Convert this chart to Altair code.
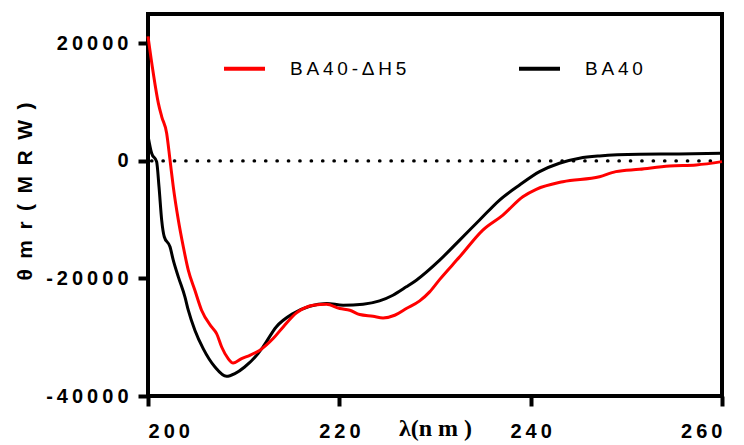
import altair as alt
import pandas as pd

# ---- data ----
red_nm = [200.0, 200.55, 201.08, 201.43, 201.95, 202.3, 202.64, 203.17, 203.69, 204.21,
          204.9, 205.6, 206.65, 207.17, 207.7, 208.38, 208.9, 209.78, 210.65, 211.7,
          213.08, 214.13, 215.52, 217.26, 218.66, 220.05, 221.1, 222.13, 223.52, 224.57,
          225.79, 227.0, 228.4, 229.44, 230.5, 232.58, 235.0, 237.1, 239.18, 240.58,
          243.36, 247.2, 248.9, 251.37, 254.5, 257.3, 260.0]
red_mrw = [21200, 14950, 9840, 7550, 4720, 170, -4380, -10060, -14610, -18580,
           -22000, -25400, -28250, -29380, -31660, -33640, -34390, -33640, -33080, -32200,
           -30230, -28250, -25860, -24550, -24380, -25120, -25400, -26140, -26430, -26710,
           -26260, -25120, -23820, -22280, -20150, -16320, -11760, -9210, -6090, -4830,
           -3530, -2680, -1820, -1420, -850, -680, -120]

black_nm = [200.0, 200.38, 200.9, 201.15, 201.43, 201.7, 202.3, 202.64, 203.17, 203.86,
            204.21, 204.9, 205.77, 207.0, 208.2, 209.08, 210.1, 211.5, 212.04,
            213.4, 215.17, 216.9, 218.66, 220.4, 222.48, 224.2, 225.6, 227.0, 228.05,
            230.49, 232.58, 234.66, 236.75, 238.84, 240.93, 243.0, 245.1, 247.2, 251.37,
            255.5, 260.0]
black_mrw = [4300, 1310, -120, -4380, -10060, -12900, -14610, -16880, -19730, -23140,
             -25400, -28810, -31940, -35070, -36660, -36200, -35070, -32790, -31600,
             -28250, -25970, -24720, -24260, -24550, -24380, -23820, -22850, -21430, -20290,
             -16880, -13470, -10060, -6650, -4090, -1820, -390, 460, 850, 1140,
             1190, 1310]

series_names = ["BA40-ΔH5", "BA40"]
series_colors = ["#ff0000", "#000000"]
x_ticks = [200, 220, 240, 260]
y_ticks = [-40000, -20000, 0, 20000]
zero_level = [0]

TS = "\u2009"  # thin space used for letter spacing
ES = "\u2002"  # en space used for the wide y-title spacing

df = pd.concat([
    pd.DataFrame({"nm": black_nm, "mrw": black_mrw, "series": series_names[1]}),
    pd.DataFrame({"nm": red_nm, "mrw": red_mrw, "series": series_names[0]}),
], ignore_index=True)
zero_df = pd.DataFrame({"level": zero_level})

spaced = "join(split(toString(datum.value), ''), '" + TS + "')"

x_enc = alt.X(
    "nm:Q",
    scale=alt.Scale(domain=[200, 260], nice=False, zero=False),
    axis=alt.Axis(
        values=x_ticks, labelExpr=spaced, labelPadding=15,
        title="λ(n m )", titleFont="Liberation Serif", titleFontWeight="bold",
        titleFontSize=24, titleX=287, titleY=39, titleAlign="center",
        titleBaseline="alphabetic",
    ),
)
y_enc = alt.Y(
    "mrw:Q",
    scale=alt.Scale(domain=[-40000, 25000], nice=False, zero=False),
    axis=alt.Axis(
        values=y_ticks, labelExpr=spaced, labelPadding=10,
        title=ES.join("θmr") + ES + ES.join("(MRW)"),
        titleFont="Liberation Sans", titleFontWeight="bold", titleFontSize=21,
        titleAngle=270, titleX=-123, titleY=177, titleAlign="center",
        titleBaseline="middle",
    ),
)

rule = alt.Chart(zero_df).mark_rule(
    color="black", strokeWidth=3.2, strokeDash=[0.5, 10.9], strokeCap="round"
).encode(y=alt.Y("level:Q", scale=alt.Scale(domain=[-40000, 25000], nice=False)))

lines = alt.Chart(df).mark_line(strokeWidth=3, interpolate="monotone").encode(
    x=x_enc,
    y=y_enc,
    color=alt.Color(
        "series:N",
        scale=alt.Scale(domain=series_names, range=series_colors),
        legend=alt.Legend(
            title=None, orient="none", legendX=74, legendY=32, direction="horizontal",
            columns=2, columnPadding=104, symbolType="stroke", symbolSize=1681,
            symbolStrokeWidth=4, labelOffset=23, labelFont="Liberation Sans",
            labelFontSize=19, labelColor="black",
            labelExpr="join(split(datum.label, ''), '" + TS + "')", padding=0,
        ),
    ),
)

chart = alt.layer(rule, lines).properties(
    width=574, height=382,
    autosize=alt.AutoSizeParams(type="none"),
    padding={"left": 148, "top": 14, "right": 22, "bottom": 49},
).configure_view(stroke="black", strokeWidth=4).configure_axis(
    grid=False, domain=False, ticks=True, tickColor="black", tickWidth=4, tickSize=10,
    labelFont="Liberation Sans", labelFontWeight="bold", labelFontSize=20,
    labelColor="black", titleColor="black",
)

chart.save("out.html", embed_options={"renderer": "svg", "actions": False})
